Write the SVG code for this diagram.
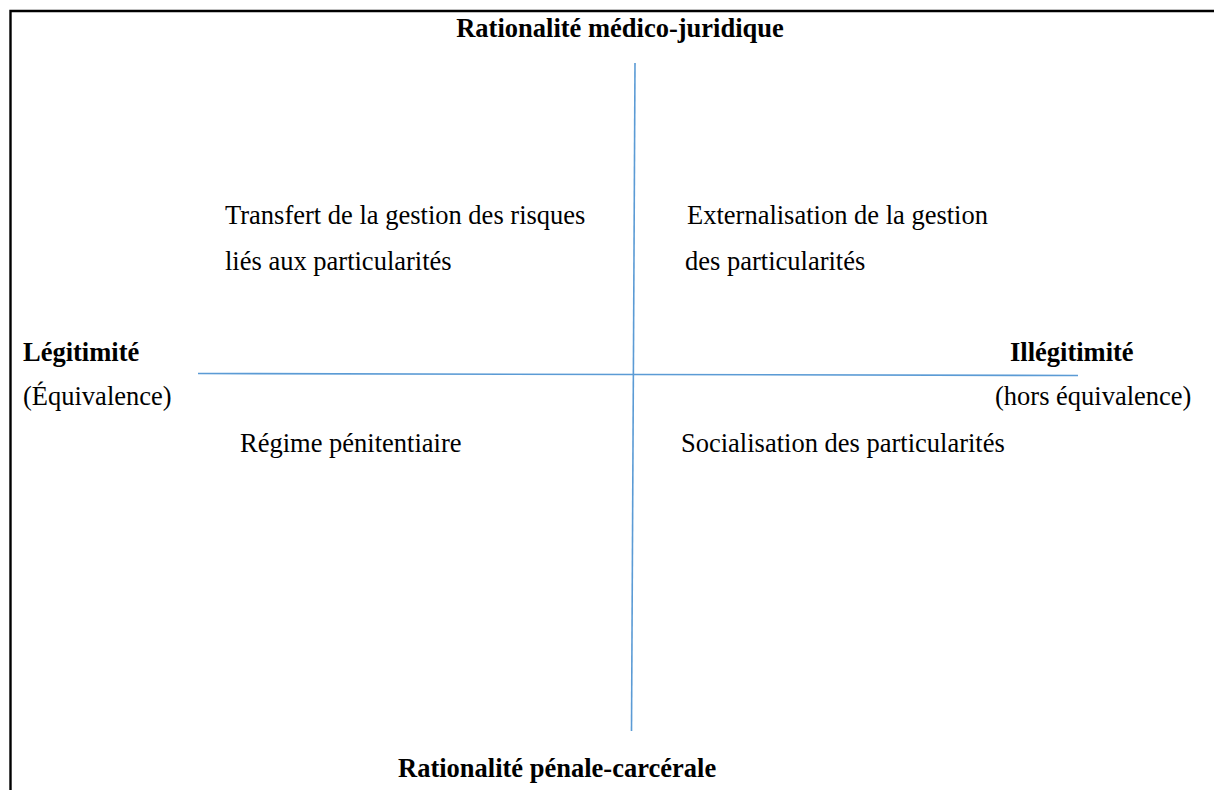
<svg xmlns="http://www.w3.org/2000/svg" width="1214" height="790" viewBox="0 0 1214 790">
<style>
text{font-family:"Liberation Serif","Times New Roman",serif;font-size:26.5px;fill:#000}
.b{font-weight:bold}
.ax{stroke:#5B9BD5;stroke-width:1.6;fill:none}
.frame{stroke:#000;stroke-width:2.4;fill:none}
</style>
<rect width="1214" height="790" fill="#fff"/>
<path class="frame" d="M10.5,790 V11 H1214"/>
<g id="connectors">
<line class="ax" x1="635" y1="63" x2="631.5" y2="731"/>
<line class="ax" x1="198" y1="373.5" x2="1078" y2="375.5"/>
</g>
<g id="top"><text class="b" x="620" y="37" text-anchor="middle">Rationalité médico-juridique</text></g>
<g id="bottom"><text class="b" x="398" y="777">Rationalité pénale-carcérale</text></g>
<g id="left"><text class="b" x="23" y="361">Légitimité</text><text x="23" y="405">(Équivalence)</text></g>
<g id="right"><text class="b" x="1010" y="361">Illégitimité</text><text x="995" y="405">(hors équivalence)</text></g>
<g id="q1"><text x="225" y="224">Transfert de la gestion des risques</text><text x="225" y="270">liés aux particularités</text></g>
<g id="q2"><text x="687" y="224">Externalisation de la gestion</text><text x="685" y="270">des particularités</text></g>
<g id="q3"><text x="240" y="452">Régime pénitentiaire</text></g>
<g id="q4"><text x="681" y="452">Socialisation des particularités</text></g>
</svg>
